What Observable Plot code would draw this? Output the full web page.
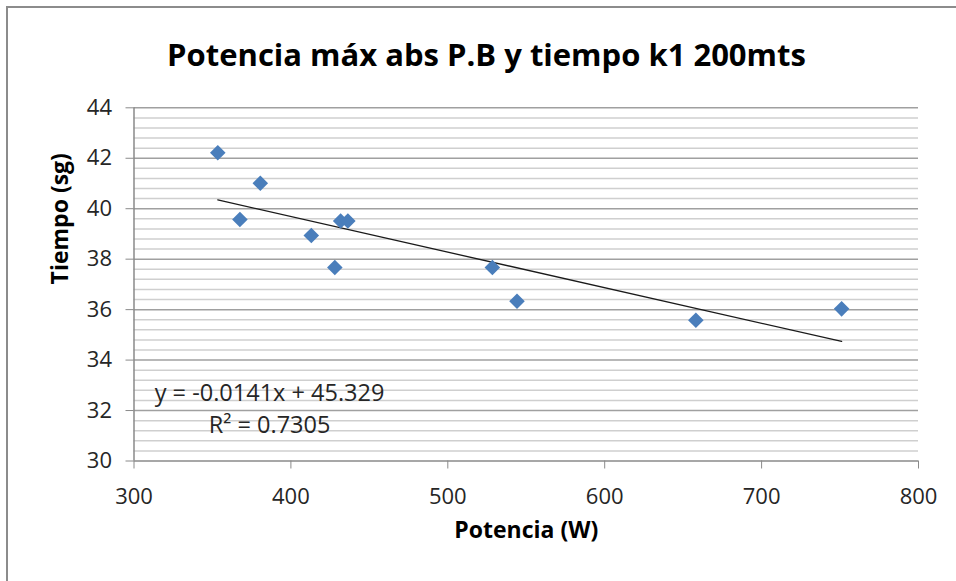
<!DOCTYPE html>
<html>
<head>
<meta charset="utf-8">
<script src="https://cdn.jsdelivr.net/npm/d3@7"></script>
<script src="https://cdn.jsdelivr.net/npm/@observablehq/plot@0.6"></script>
<style>
  body { margin: 0; background: #fff; }
  #chart { position: relative; width: 956px; height: 581px; overflow: hidden; font-family: "Open Sans", sans-serif; }
  #frame { position: absolute; left: 6px; top: 6px; width: 980px; height: 620px; border: 2px solid #8c8c8c; box-sizing: border-box; }
  #title { position: absolute; left: 0; width: 973px; top: 33px; text-align: center; font-weight: 700; font-size: 31px; line-height: 42px; color: #000; }
  #plot { position: absolute; left: 0; top: 80px; }
</style>
</head>
<body>
<div id="chart">
  <div id="frame"></div>
  <div id="title">Potencia máx abs P.B y tiempo k1 200mts</div>
  <div id="plot"></div>
</div>
<script>
// Peak absolute power (W) and 200 m K1 time (s) per athlete
const potencia = [353.4, 367.5, 380.5, 413.0, 428.0, 431.7, 436.3, 528.4, 544.1, 658.1, 751.0];
const tiempo   = [42.22, 39.57, 41.01, 38.94, 37.67, 39.51, 39.51, 37.67, 36.33, 35.58, 36.03];

// Axis ticks
const xTicks = [300, 400, 500, 600, 700, 800];
const yTicks = [30, 32, 34, 36, 38, 40, 42, 44];

// Linear trend line coefficients, as printed on the chart
const pendiente = -0.0141;
const intercepto = 45.329;
const r2 = 0.7305;

const puntos = potencia.map((p, i) => ({potencia: p, tiempo: tiempo[i]}));

// Trend line spans the observed power range
const [pMin, pMax] = d3.extent(potencia);
const tendencia = [pMin, pMax].map(p => ({potencia: p, tiempo: pendiente * p + intercepto}));

// Minor gridlines every 0.4 s between the major ticks
const yMinor = d3.range(0, 36).filter(i => i % 5 !== 0).map(i => 30 + i * 0.4);

const fmt = v => v.toString();

const chart = Plot.plot({
  width: 956,
  height: 500,
  marginLeft: 133.5,
  marginRight: 38,
  marginTop: 27.3,
  marginBottom: 119.5,
  x: {domain: [300, 800]},
  y: {domain: [30, 44]},
  style: {fontFamily: "Open Sans", background: "transparent", overflow: "visible"},
  marks: [
    Plot.ruleY(yMinor, {stroke: "#cfcfcf", strokeWidth: 1.5}),
    Plot.ruleY(yTicks.filter(t => t > 30), {stroke: "#a0a0a0", strokeWidth: 1.5}),
    Plot.ruleY([30], {stroke: "#8a8a8a", strokeWidth: 1.5}),
    Plot.ruleX([300], {stroke: "#8a8a8a", strokeWidth: 1.5}),
    Plot.axisX({ticks: xTicks, tickFormat: fmt, tickSize: 8, tickPadding: 19, fontSize: 22,
                stroke: "#8a8a8a", fill: "#262626", label: null}),
    Plot.axisY({ticks: yTicks, tickFormat: fmt, tickSize: 8, tickPadding: 14, fontSize: 22,
                stroke: "#8a8a8a", fill: "#262626", label: null}),
    Plot.line(tendencia, {x: "potencia", y: "tiempo", stroke: "#1a1a1a", strokeWidth: 1.3}),
    Plot.dot(puntos, {x: "potencia", y: "tiempo", symbol: "diamond2", r: 7, fill: "#4a7ebb", stroke: "none"}),
    Plot.text([`y = ${pendiente}x + ${intercepto}`], {x: 386.4, y: 32.68, fontSize: 23.5, fill: "#262626"}),
    Plot.text([`R² = ${r2}`], {x: 386.4, y: 31.41, fontSize: 23.5, fill: "#262626"}),
    Plot.text(["Potencia (W)"], {frameAnchor: "bottom", dy: 76.5, fontSize: 23, fontWeight: "bold", fill: "#000"}),
    Plot.text(["Tiempo (sg)"], {frameAnchor: "left", dx: -73.5, rotate: -90, fontSize: 23, fontWeight: "bold", fill: "#000"})
  ]
});

document.getElementById("plot").append(chart);
</script>
</body>
</html>
